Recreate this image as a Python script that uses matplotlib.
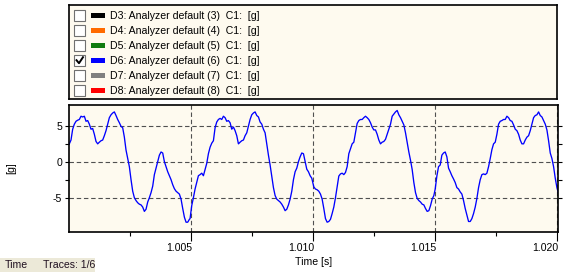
import numpy as np
import matplotlib
matplotlib.use('Agg')
from matplotlib import pyplot as plt
from matplotlib.patches import Rectangle
from matplotlib.transforms import ScaledTranslation

plt.rcParams['font.family'] = ['Liberation Sans', 'DejaVu Sans']
plt.rcParams['lines.scale_dashes'] = False
plt.rcParams['axes.unicode_minus'] = False

dt = 0.0683e-3
seg_start = [1.0000137, 1.004959, 1.009959, 1.015000]
seg_values = [
    [2.57, 3.1, 4.6, 5.3, 5.7, 5.85, 5.95, 6.4, 6.3, 6.4, 5.7, 5.8, 5.3, 4.6, 4.7,
     3.9, 2.9, 2.57, 2.8, 3.0, 3.1, 3.7, 4.4, 5.3, 6.2, 6.6, 6.85, 7.0, 6.5, 5.95,
     5.5, 5.0, 4.8, 3.5, 1.7, 0.54, -0.6, -2.4, -4.0, -4.9, -5.3, -5.6, -5.8, -5.9,
     -6.2, -6.8, -6.5, -5.5, -4.9, -4.2, -3.3, -1.7, -0.8, 0.1, 1.0, 1.44, 1.3, 0.1,
     -0.6, -1.3, -1.85, -2.4, -3.1, -3.65, -4.0, -4.2, -4.4, -5.1, -6.4, -7.6, -8.3,
     -8.3, -7.9],
    [-7.8, -6.0, -4.9, -3.7, -2.8, -1.85, -1.7, -1.5, -1.85, -1.0, -0.14, 1.2, 2.1,
     2.66, 3.0, 4.8, 5.6, 5.95, 6.1, 5.95, 6.4, 6.2, 5.7, 5.8, 5.5, 4.6, 4.9, 4.4,
     3.7, 2.57, 2.8, 3.0, 3.1, 3.7, 4.1, 5.0, 5.95, 6.6, 6.85, 7.0, 6.5, 6.3, 5.6,
     5.3, 4.6, 4.1, 2.57, 1.0, -0.36, -1.9, -3.5, -4.6, -5.1, -5.3, -5.5, -5.8, -6.2,
     -6.7, -6.5, -5.9, -5.1, -4.0, -2.4, -1.3, -0.8, 0.1, 0.77, 1.3, 1.2, 0.1, -0.95,
     -1.3, -1.85, -2.2],
    [-2.4, -3.4, -3.7, -3.8, -4.0, -4.4, -5.1, -6.4, -7.8, -8.3, -8.2, -7.9, -7.1,
     -6.2, -4.9, -3.4, -1.9, -1.6, -1.5, -1.7, -1.4, -0.6, 1.2, 1.9, 2.57, 2.8, 4.1,
     5.4, 5.8, 5.95, 5.95, 6.2, 6.4, 6.2, 5.95, 5.5, 4.9, 4.5, 4.5, 3.9, 3.1, 2.57,
     2.8, 2.9, 3.2, 3.9, 4.6, 5.3, 6.4, 6.7, 7.0, 7.2, 6.6, 6.2, 5.7, 5.2, 4.1, 2.8,
     1.44, 0.3, -1.0, -2.8, -4.2, -5.0, -5.3, -5.5, -5.8, -5.9, -6.4, -6.8, -6.7,
     -6.0, -5.1, -4.6],
    [-3.7, -1.9, -0.6, -0.36, 1.0, 1.3, 1.44, 0.77, -0.8, -1.3, -1.85, -2.3, -2.8,
     -3.5, -3.7, -4.1, -4.4, -5.3, -6.4, -7.3, -8.2, -8.2, -7.8, -7.1, -6.2, -5.0,
     -3.5, -2.4, -1.7, -1.6, -1.7, -1.5, -0.6, 0.54, 1.76, 2.57, 2.8, 3.9, 5.3, 5.7,
     5.8, 5.95, 5.95, 6.4, 6.2, 5.8, 5.7, 5.2, 4.6, 4.4, 3.9, 3.1, 2.57, 2.57, 3.1,
     3.5, 3.7, 4.4, 5.3, 6.2, 6.5, 6.6, 7.0, 6.5, 6.3, 5.8, 5.3, 4.5, 3.0, 1.3, 0.54,
     -0.6, -2.2, -3.5, -4.4],
]

legend_names = ['D3: Analyzer default (3)  C1:  [g]',
                'D4: Analyzer default (4)  C1:  [g]',
                'D5: Analyzer default (5)  C1:  [g]',
                'D6: Analyzer default (6)  C1:  [g]',
                'D7: Analyzer default (7)  C1:  [g]',
                'D8: Analyzer default (8)  C1:  [g]']
legend_colors = ['#000000', '#ff6a00', '#107c10', '#0000ff', '#808080', '#ff0000']
legend_checked = [False, False, False, True, False, False]

x_major = [1.005, 1.010, 1.015, 1.020]
x_minor = [1.0025, 1.0075, 1.0125, 1.0175]
y_major = [-5, 0, 5]
y_minor = [-2.5, 2.5]

t = np.concatenate([s + dt * np.arange(len(v)) for s, v in zip(seg_start, seg_values)])
g = np.concatenate(seg_values)

cream = '#fefaef'
fs = 7.6
W, H = 568, 275
fig = plt.figure(figsize=(W / 100, H / 100), dpi=100)

# legend panel
lax = fig.add_axes([69 / W, 1 - 99 / H, 488 / W, 94 / H])
lax.set_xlim(0, 488)
lax.set_ylim(94, 0)
lax.set_facecolor(cream)
lax.set_xticks([])
lax.set_yticks([])
for s in lax.spines.values():
    s.set_linewidth(1.2)
for i, (name, col, chk) in enumerate(zip(legend_names, legend_colors, legend_checked)):
    yc = 10.7 + 15 * i
    lax.add_patch(Rectangle((5, yc - 5.5), 11, 11, facecolor='white', edgecolor='#707070', lw=0.8))
    if chk:
        lax.plot([7.5, 10, 14], [yc - 0.5, yc + 2.5, yc - 3.5], color='black', lw=1.4)
    lax.add_patch(Rectangle((22, yc - 2.5), 14, 5, facecolor=col, edgecolor='none'))
    lax.text(41, yc + 0.5, name, fontsize=fs, va='center', ha='left')

# trace panel
ax = fig.add_axes([69 / W, 1 - 232.3 / H, 489 / W, 127.6 / H])
ax.set_facecolor(cream)
ax.plot(t, g, color='#0000ff', lw=0.95)
ax.set_xlim(1.0, 1.02003)
ax.set_ylim(-9.7, 8.0)
ax.set_xticks(x_major)
ax.set_xticklabels(['%.3f' % v for v in x_major])
ax.set_xticks(x_minor, minor=True)
ax.set_yticks(y_major)
ax.set_yticks(y_minor, minor=True)
ax.tick_params(axis='x', which='major', length=6.5, width=0.8, labelsize=fs, pad=1)
ax.tick_params(axis='x', which='minor', length=3, width=0.8)
ax.tick_params(axis='y', which='both', length=3, width=0.8, labelsize=fs, pad=2,
               right=True, direction='out')
# x labels sit just left of their tick, as in the original tool
shift = ScaledTranslation(1.5 / 100, 0, fig.dpi_scale_trans)
for lab in ax.get_xticklabels():
    lab.set_horizontalalignment('right')
    lab.set_transform(lab.get_transform() + shift)
ax.grid(True, which='major', color='#505050', lw=0.8, linestyle=(0, (3.2, 2.0)))
for s in ax.spines.values():
    s.set_linewidth(1.2)
ax.set_xlabel('Time [s]', fontsize=fs, labelpad=3)
ax.set_ylabel('[g]', fontsize=fs, labelpad=26)

# status strip
fig.patches.append(Rectangle((0, 3 / H), 95 / W, 14 / H, transform=fig.transFigure,
                             facecolor='#ece9d8', edgecolor='none'))
fig.text(5 / W, 1 - 265 / H, 'Time', fontsize=fs, va='center', color='#201020')
fig.text(43 / W, 1 - 265 / H, 'Traces: 1/6', fontsize=fs, va='center', color='#201020')

fig.savefig('out.png', dpi=100)
